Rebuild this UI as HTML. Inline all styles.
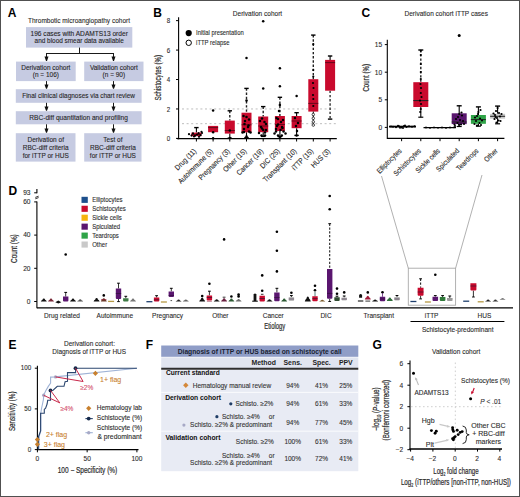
<!DOCTYPE html>
<html><head><meta charset="utf-8"><style>
html,body{margin:0;padding:0;background:#fff;}
svg{display:block;font-family:"Liberation Sans", sans-serif;}
</style></head><body>
<svg width="520" height="497" viewBox="0 0 520 497" fill="#2b2b2b">
<rect x="0" y="0" width="520" height="497" fill="#fff"/>
<text x="7.80" y="17.40" font-size="12" font-weight="bold" fill="#000">A</text>
<text x="28.00" y="22.60" font-size="6.5" stroke="#2b2b2b" stroke-width="0.1" textLength="102" lengthAdjust="spacingAndGlyphs">Thrombotic microangiopathy cohort</text>
<rect x="26.00" y="27.10" width="106.30" height="20.50" fill="#c6cbe2"/>
<text x="79.20" y="35.60" font-size="6.85" text-anchor="middle" fill="#262626" stroke="#262626" stroke-width="0.1" textLength="97.4" lengthAdjust="spacingAndGlyphs">196 cases with ADAMTS13 order</text>
<text x="79.20" y="43.20" font-size="6.85" text-anchor="middle" fill="#262626" stroke="#262626" stroke-width="0.1" textLength="89.2" lengthAdjust="spacingAndGlyphs">and blood smear data available</text>
<line x1="79.50" y1="47.60" x2="79.50" y2="53.50" stroke="#1a1a1a" stroke-width="1"/>
<line x1="46.00" y1="53.50" x2="114.00" y2="53.50" stroke="#1a1a1a" stroke-width="1"/>
<line x1="46.50" y1="53.50" x2="46.50" y2="57.70" stroke="#1a1a1a" stroke-width="1"/>
<path d="M44.50,56.60 L48.50,56.60 L47.00,60.90 L46.00,60.90 Z" fill="#111"/>
<line x1="113.50" y1="53.50" x2="113.50" y2="57.70" stroke="#1a1a1a" stroke-width="1"/>
<path d="M111.50,56.60 L115.50,56.60 L114.00,60.90 L113.00,60.90 Z" fill="#111"/>
<rect x="16.00" y="61.60" width="59.70" height="19.50" fill="#c6cbe2"/>
<rect x="84.20" y="61.60" width="59.30" height="19.50" fill="#c6cbe2"/>
<text x="45.85" y="69.90" font-size="6.85" text-anchor="middle" fill="#262626" stroke="#262626" stroke-width="0.1" textLength="49.13" lengthAdjust="spacingAndGlyphs">Derivation cohort</text>
<text x="45.85" y="77.40" font-size="6.85" text-anchor="middle" fill="#262626" stroke="#262626" stroke-width="0.1" textLength="26.2" lengthAdjust="spacingAndGlyphs">(n = 106)</text>
<text x="113.85" y="69.90" font-size="6.85" text-anchor="middle" fill="#262626" stroke="#262626" stroke-width="0.1" textLength="47.93" lengthAdjust="spacingAndGlyphs">Validation cohort</text>
<text x="113.85" y="77.40" font-size="6.85" text-anchor="middle" fill="#262626" stroke="#262626" stroke-width="0.1" textLength="22.58" lengthAdjust="spacingAndGlyphs">(n = 90)</text>
<line x1="46.50" y1="81.10" x2="46.50" y2="85.50" stroke="#1a1a1a" stroke-width="1"/>
<path d="M44.50,84.40 L48.50,84.40 L47.00,88.70 L46.00,88.70 Z" fill="#111"/>
<line x1="113.50" y1="81.10" x2="113.50" y2="85.50" stroke="#1a1a1a" stroke-width="1"/>
<path d="M111.50,84.40 L115.50,84.40 L114.00,88.70 L113.00,88.70 Z" fill="#111"/>
<rect x="15.80" y="89.20" width="125.80" height="13.60" fill="#c6cbe2"/>
<text x="78.60" y="97.90" font-size="6.85" text-anchor="middle" fill="#262626" stroke="#262626" stroke-width="0.1" textLength="112.7" lengthAdjust="spacingAndGlyphs">Final clinical diagnoses via chart review</text>
<line x1="46.50" y1="102.80" x2="46.50" y2="107.50" stroke="#1a1a1a" stroke-width="1"/>
<path d="M44.50,106.40 L48.50,106.40 L47.00,110.70 L46.00,110.70 Z" fill="#111"/>
<line x1="113.50" y1="102.80" x2="113.50" y2="107.50" stroke="#1a1a1a" stroke-width="1"/>
<path d="M111.50,106.40 L115.50,106.40 L114.00,110.70 L113.00,110.70 Z" fill="#111"/>
<rect x="15.80" y="111.20" width="125.80" height="13.10" fill="#c6cbe2"/>
<text x="78.60" y="119.90" font-size="6.85" text-anchor="middle" fill="#262626" stroke="#262626" stroke-width="0.1" textLength="98.7" lengthAdjust="spacingAndGlyphs">RBC-diff quantitation and profiling</text>
<line x1="46.50" y1="124.30" x2="46.50" y2="129.50" stroke="#1a1a1a" stroke-width="1"/>
<path d="M44.50,128.40 L48.50,128.40 L47.00,132.70 L46.00,132.70 Z" fill="#111"/>
<line x1="113.50" y1="124.30" x2="113.50" y2="129.50" stroke="#1a1a1a" stroke-width="1"/>
<path d="M111.50,128.40 L115.50,128.40 L114.00,132.70 L113.00,132.70 Z" fill="#111"/>
<rect x="15.80" y="133.20" width="59.70" height="28.40" fill="#c6cbe2"/>
<rect x="84.20" y="133.20" width="57.30" height="28.40" fill="#c6cbe2"/>
<text x="45.70" y="142.20" font-size="6.85" text-anchor="middle" fill="#262626" stroke="#262626" stroke-width="0.1" textLength="36.49" lengthAdjust="spacingAndGlyphs">Derivation of</text>
<text x="45.70" y="149.95" font-size="6.85" text-anchor="middle" fill="#262626" stroke="#262626" stroke-width="0.1" textLength="45.75" lengthAdjust="spacingAndGlyphs">RBC-diff criteria</text>
<text x="45.70" y="157.70" font-size="6.85" text-anchor="middle" fill="#262626" stroke="#262626" stroke-width="0.1" textLength="46.11" lengthAdjust="spacingAndGlyphs">for iTTP or HUS</text>
<text x="112.90" y="142.20" font-size="6.85" text-anchor="middle" fill="#262626" stroke="#262626" stroke-width="0.1" textLength="19.15" lengthAdjust="spacingAndGlyphs">Test of</text>
<text x="112.90" y="149.95" font-size="6.85" text-anchor="middle" fill="#262626" stroke="#262626" stroke-width="0.1" textLength="45.75" lengthAdjust="spacingAndGlyphs">RBC-diff criteria</text>
<text x="112.90" y="157.70" font-size="6.85" text-anchor="middle" fill="#262626" stroke="#262626" stroke-width="0.1" textLength="46.11" lengthAdjust="spacingAndGlyphs">for iTTP or HUS</text>
<text x="153.20" y="17.40" font-size="12" font-weight="bold" fill="#000">B</text>
<text x="257.50" y="15.50" font-size="6.5" text-anchor="middle" stroke="#2b2b2b" stroke-width="0.1" textLength="49.3" lengthAdjust="spacingAndGlyphs">Derivation cohort</text>
<line x1="178.60" y1="17.30" x2="178.60" y2="139.20" stroke="#000" stroke-width="1.1"/>
<line x1="176.00" y1="138.40" x2="178.60" y2="138.40" stroke="#000" stroke-width="1"/>
<text x="170.30" y="141.00" font-size="6.7" text-anchor="end" stroke="#2b2b2b" stroke-width="0.1" textLength="3.45" lengthAdjust="spacingAndGlyphs">0</text>
<line x1="176.00" y1="108.96" x2="178.60" y2="108.96" stroke="#000" stroke-width="1"/>
<text x="170.30" y="111.56" font-size="6.7" text-anchor="end" stroke="#2b2b2b" stroke-width="0.1" textLength="3.45" lengthAdjust="spacingAndGlyphs">2</text>
<line x1="176.00" y1="79.52" x2="178.60" y2="79.52" stroke="#000" stroke-width="1"/>
<text x="170.30" y="82.12" font-size="6.7" text-anchor="end" stroke="#2b2b2b" stroke-width="0.1" textLength="3.45" lengthAdjust="spacingAndGlyphs">4</text>
<line x1="176.00" y1="50.08" x2="178.60" y2="50.08" stroke="#000" stroke-width="1"/>
<text x="170.30" y="52.68" font-size="6.7" text-anchor="end" stroke="#2b2b2b" stroke-width="0.1" textLength="3.45" lengthAdjust="spacingAndGlyphs">6</text>
<line x1="176.00" y1="20.64" x2="178.60" y2="20.64" stroke="#000" stroke-width="1"/>
<text x="170.30" y="23.24" font-size="6.7" text-anchor="end" stroke="#2b2b2b" stroke-width="0.1" textLength="3.45" lengthAdjust="spacingAndGlyphs">8</text>
<text x="161.00" y="77.80" font-size="8.6" text-anchor="middle" stroke="#2b2b2b" stroke-width="0.2" textLength="45.5" lengthAdjust="spacingAndGlyphs" transform="rotate(-90 161.00 77.80)">Schistocytes (%)</text>
<line x1="182.00" y1="123.68" x2="338.00" y2="123.68" stroke="#bdbdbd" stroke-width="1" stroke-dasharray="2,2.6"/>
<line x1="182.00" y1="108.96" x2="338.00" y2="108.96" stroke="#bdbdbd" stroke-width="1" stroke-dasharray="2,2.6"/>
<line x1="177.00" y1="138.60" x2="336.80" y2="138.60" stroke="#000" stroke-width="1.3"/>
<line x1="196.40" y1="138.60" x2="196.40" y2="141.50" stroke="#000" stroke-width="1"/>
<text x="196.90" y="151.60" font-size="7.5" text-anchor="end" stroke="#2b2b2b" stroke-width="0.12" textLength="26.97" lengthAdjust="spacingAndGlyphs" transform="rotate(-45 196.90 151.60)">Drug (11)</text>
<line x1="213.10" y1="138.60" x2="213.10" y2="141.50" stroke="#000" stroke-width="1"/>
<text x="213.60" y="151.60" font-size="7.5" text-anchor="end" stroke="#2b2b2b" stroke-width="0.12" textLength="46.24" lengthAdjust="spacingAndGlyphs" transform="rotate(-45 213.60 151.60)">Autoimmune (5)</text>
<line x1="229.80" y1="138.60" x2="229.80" y2="141.50" stroke="#000" stroke-width="1"/>
<text x="230.30" y="151.60" font-size="7.5" text-anchor="end" stroke="#2b2b2b" stroke-width="0.12" textLength="40.82" lengthAdjust="spacingAndGlyphs" transform="rotate(-45 230.30 151.60)">Pregnancy (3)</text>
<line x1="246.50" y1="138.60" x2="246.50" y2="141.50" stroke="#000" stroke-width="1"/>
<text x="247.00" y="151.60" font-size="7.5" text-anchor="end" stroke="#2b2b2b" stroke-width="0.12" textLength="29.62" lengthAdjust="spacingAndGlyphs" transform="rotate(-45 247.00 151.60)">Other (15)</text>
<line x1="263.20" y1="138.60" x2="263.20" y2="141.50" stroke="#000" stroke-width="1"/>
<text x="263.70" y="151.60" font-size="7.5" text-anchor="end" stroke="#2b2b2b" stroke-width="0.12" textLength="34.32" lengthAdjust="spacingAndGlyphs" transform="rotate(-45 263.70 151.60)">Cancer (19)</text>
<line x1="279.90" y1="138.60" x2="279.90" y2="141.50" stroke="#000" stroke-width="1"/>
<text x="280.40" y="151.60" font-size="7.5" text-anchor="end" stroke="#2b2b2b" stroke-width="0.12" textLength="24.56" lengthAdjust="spacingAndGlyphs" transform="rotate(-45 280.40 151.60)">DIC (25)</text>
<line x1="296.60" y1="138.60" x2="296.60" y2="141.50" stroke="#000" stroke-width="1"/>
<text x="297.10" y="151.60" font-size="7.5" text-anchor="end" stroke="#2b2b2b" stroke-width="0.12" textLength="43.83" lengthAdjust="spacingAndGlyphs" transform="rotate(-45 297.10 151.60)">Transplant (10)</text>
<line x1="313.30" y1="138.60" x2="313.30" y2="141.50" stroke="#000" stroke-width="1"/>
<text x="313.80" y="151.60" font-size="7.5" text-anchor="end" stroke="#2b2b2b" stroke-width="0.12" textLength="26.97" lengthAdjust="spacingAndGlyphs" transform="rotate(-45 313.80 151.60)">iTTP (15)</text>
<line x1="330.10" y1="138.60" x2="330.10" y2="141.50" stroke="#000" stroke-width="1"/>
<text x="330.60" y="151.60" font-size="7.5" text-anchor="end" stroke="#2b2b2b" stroke-width="0.12" textLength="23.47" lengthAdjust="spacingAndGlyphs" transform="rotate(-45 330.60 151.60)">HUS (3)</text>
<circle cx="188.70" cy="33.10" r="3.1" fill="#000"/>
<circle cx="188.70" cy="42.80" r="2.7" fill="#fff" stroke="#000" stroke-width="1"/>
<text x="196.10" y="35.30" font-size="6.4" stroke="#2b2b2b" stroke-width="0.1" textLength="47.6" lengthAdjust="spacingAndGlyphs">Initial presentation</text>
<text x="196.10" y="45.00" font-size="6.4" stroke="#2b2b2b" stroke-width="0.1" textLength="33.34" lengthAdjust="spacingAndGlyphs">iTTP relapse</text>
<line x1="196.40" y1="127.60" x2="196.40" y2="132.60" stroke="#000" stroke-width="1.1"/>
<line x1="194.20" y1="127.60" x2="198.60" y2="127.60" stroke="#000" stroke-width="1.4"/>
<rect x="191.40" y="132.60" width="10.00" height="3.60" fill="#c90a2d"/>
<line x1="191.40" y1="134.50" x2="201.40" y2="134.50" stroke="#5a0818" stroke-width="0.9"/>
<circle cx="189.00" cy="134.20" r="1.1" fill="#000"/>
<circle cx="191.50" cy="135.60" r="1.1" fill="#000"/>
<circle cx="193.00" cy="133.40" r="1.1" fill="#000"/>
<circle cx="195.00" cy="135.80" r="1.1" fill="#000"/>
<circle cx="197.00" cy="134.60" r="1.1" fill="#000"/>
<circle cx="198.60" cy="133.20" r="1.1" fill="#000"/>
<circle cx="200.50" cy="135.20" r="1.1" fill="#000"/>
<circle cx="202.00" cy="133.00" r="1.1" fill="#000"/>
<circle cx="194.00" cy="136.50" r="1.1" fill="#000"/>
<circle cx="199.00" cy="136.80" r="1.1" fill="#000"/>
<circle cx="201.50" cy="131.80" r="1.1" fill="#000"/>
<rect x="208.10" y="125.90" width="10.00" height="6.30" fill="#c90a2d"/>
<line x1="208.10" y1="127.60" x2="218.10" y2="127.60" stroke="#5a0818" stroke-width="0.9"/>
<circle cx="213.10" cy="110.60" r="1.25" fill="#000"/>
<circle cx="213.10" cy="138.20" r="1.25" fill="#000"/>
<circle cx="213.10" cy="132.20" r="1.25" fill="#000"/>
<line x1="229.80" y1="110.80" x2="229.80" y2="120.60" stroke="#222" stroke-width="1.4" stroke-dasharray="2.4,1.8"/>
<line x1="227.60" y1="110.80" x2="232.00" y2="110.80" stroke="#000" stroke-width="1.4"/>
<line x1="229.80" y1="133.60" x2="229.80" y2="138.20" stroke="#000" stroke-width="1.1"/>
<line x1="227.60" y1="138.20" x2="232.00" y2="138.20" stroke="#000" stroke-width="1.4"/>
<rect x="224.80" y="120.60" width="10.00" height="13.00" fill="#c90a2d"/>
<line x1="224.80" y1="130.50" x2="234.80" y2="130.50" stroke="#5a0818" stroke-width="0.9"/>
<circle cx="229.80" cy="130.50" r="1.25" fill="#000"/>
<circle cx="229.80" cy="138.00" r="1.25" fill="#000"/>
<line x1="246.50" y1="88.40" x2="246.50" y2="112.70" stroke="#222" stroke-width="1.4" stroke-dasharray="2.4,1.8"/>
<line x1="244.30" y1="88.40" x2="248.70" y2="88.40" stroke="#000" stroke-width="1.4"/>
<line x1="246.50" y1="132.30" x2="246.50" y2="137.60" stroke="#000" stroke-width="1.1"/>
<line x1="244.30" y1="137.60" x2="248.70" y2="137.60" stroke="#000" stroke-width="1.4"/>
<rect x="241.50" y="112.70" width="10.00" height="19.60" fill="#c90a2d"/>
<line x1="241.50" y1="124.80" x2="251.50" y2="124.80" stroke="#5a0818" stroke-width="0.9"/>
<circle cx="243.50" cy="116.00" r="1.25" fill="#000"/>
<circle cx="249.00" cy="119.50" r="1.25" fill="#000"/>
<circle cx="244.50" cy="124.00" r="1.25" fill="#000"/>
<circle cx="248.50" cy="125.50" r="1.25" fill="#000"/>
<circle cx="246.50" cy="58.10" r="1.25" fill="#000"/>
<circle cx="246.50" cy="100.60" r="1.25" fill="#000"/>
<circle cx="246.50" cy="117.00" r="1.25" fill="#000"/>
<circle cx="245.00" cy="121.00" r="1.25" fill="#000"/>
<circle cx="248.00" cy="127.00" r="1.25" fill="#000"/>
<circle cx="244.00" cy="132.00" r="1.25" fill="#000"/>
<circle cx="249.00" cy="131.50" r="1.25" fill="#000"/>
<circle cx="242.50" cy="132.50" r="1.25" fill="#000"/>
<circle cx="250.50" cy="132.50" r="1.25" fill="#000"/>
<circle cx="246.50" cy="136.50" r="1.25" fill="#000"/>
<circle cx="244.00" cy="129.00" r="1.25" fill="#000"/>
<line x1="263.20" y1="106.60" x2="263.20" y2="116.50" stroke="#222" stroke-width="1.4" stroke-dasharray="2.4,1.8"/>
<line x1="261.00" y1="106.60" x2="265.40" y2="106.60" stroke="#000" stroke-width="1.4"/>
<line x1="263.20" y1="132.20" x2="263.20" y2="136.40" stroke="#000" stroke-width="1.1"/>
<line x1="261.00" y1="136.40" x2="265.40" y2="136.40" stroke="#000" stroke-width="1.4"/>
<rect x="258.20" y="116.50" width="10.00" height="15.70" fill="#c90a2d"/>
<line x1="258.20" y1="126.00" x2="268.20" y2="126.00" stroke="#5a0818" stroke-width="0.9"/>
<circle cx="260.00" cy="121.00" r="1.25" fill="#000"/>
<circle cx="266.00" cy="124.00" r="1.25" fill="#000"/>
<circle cx="262.00" cy="128.50" r="1.25" fill="#000"/>
<circle cx="265.00" cy="132.50" r="1.25" fill="#000"/>
<circle cx="263.20" cy="21.20" r="1.25" fill="#000"/>
<circle cx="263.20" cy="88.50" r="1.25" fill="#000"/>
<circle cx="262.00" cy="118.50" r="1.25" fill="#000"/>
<circle cx="264.50" cy="122.00" r="1.25" fill="#000"/>
<circle cx="261.00" cy="127.00" r="1.25" fill="#000"/>
<circle cx="266.00" cy="130.00" r="1.25" fill="#000"/>
<circle cx="259.00" cy="133.00" r="1.25" fill="#000"/>
<circle cx="261.50" cy="135.50" r="1.25" fill="#000"/>
<circle cx="265.00" cy="135.50" r="1.25" fill="#000"/>
<circle cx="263.20" cy="130.00" r="1.25" fill="#000"/>
<line x1="279.90" y1="97.30" x2="279.90" y2="116.00" stroke="#222" stroke-width="1.4" stroke-dasharray="2.4,1.8"/>
<line x1="277.70" y1="97.30" x2="282.10" y2="97.30" stroke="#000" stroke-width="1.4"/>
<line x1="279.90" y1="131.00" x2="279.90" y2="136.60" stroke="#000" stroke-width="1.1"/>
<line x1="277.70" y1="136.60" x2="282.10" y2="136.60" stroke="#000" stroke-width="1.4"/>
<rect x="274.90" y="116.00" width="10.00" height="15.00" fill="#c90a2d"/>
<line x1="274.90" y1="124.50" x2="284.90" y2="124.50" stroke="#5a0818" stroke-width="0.9"/>
<circle cx="276.50" cy="118.00" r="1.25" fill="#000"/>
<circle cx="283.00" cy="120.00" r="1.25" fill="#000"/>
<circle cx="278.00" cy="124.50" r="1.25" fill="#000"/>
<circle cx="282.00" cy="127.00" r="1.25" fill="#000"/>
<circle cx="276.00" cy="129.00" r="1.25" fill="#000"/>
<circle cx="280.50" cy="130.00" r="1.25" fill="#000"/>
<circle cx="279.90" cy="68.30" r="1.25" fill="#000"/>
<circle cx="279.90" cy="86.30" r="1.25" fill="#000"/>
<circle cx="279.90" cy="105.00" r="1.25" fill="#000"/>
<circle cx="279.00" cy="111.00" r="1.25" fill="#000"/>
<circle cx="278.00" cy="119.00" r="1.25" fill="#000"/>
<circle cx="281.00" cy="122.00" r="1.25" fill="#000"/>
<circle cx="277.00" cy="126.00" r="1.25" fill="#000"/>
<circle cx="282.50" cy="128.00" r="1.25" fill="#000"/>
<circle cx="276.00" cy="131.50" r="1.25" fill="#000"/>
<circle cx="283.50" cy="131.50" r="1.25" fill="#000"/>
<circle cx="274.50" cy="133.50" r="1.25" fill="#000"/>
<circle cx="285.50" cy="133.50" r="1.25" fill="#000"/>
<circle cx="278.00" cy="135.50" r="1.25" fill="#000"/>
<circle cx="281.80" cy="135.50" r="1.25" fill="#000"/>
<circle cx="279.90" cy="137.00" r="1.25" fill="#000"/>
<line x1="296.60" y1="112.70" x2="296.60" y2="116.00" stroke="#000" stroke-width="1.1"/>
<line x1="294.40" y1="112.70" x2="298.80" y2="112.70" stroke="#000" stroke-width="1.4"/>
<line x1="296.60" y1="128.20" x2="296.60" y2="135.40" stroke="#000" stroke-width="1.1"/>
<line x1="294.40" y1="135.40" x2="298.80" y2="135.40" stroke="#000" stroke-width="1.4"/>
<rect x="291.60" y="116.00" width="10.00" height="12.20" fill="#c90a2d"/>
<line x1="291.60" y1="121.00" x2="301.60" y2="121.00" stroke="#5a0818" stroke-width="0.9"/>
<circle cx="296.60" cy="96.10" r="1.25" fill="#000"/>
<circle cx="295.00" cy="118.00" r="1.25" fill="#000"/>
<circle cx="298.00" cy="123.00" r="1.25" fill="#000"/>
<circle cx="296.00" cy="126.00" r="1.25" fill="#000"/>
<circle cx="297.00" cy="131.00" r="1.25" fill="#000"/>
<circle cx="296.60" cy="135.40" r="1.25" fill="#000"/>
<line x1="313.30" y1="35.10" x2="313.30" y2="79.20" stroke="#222" stroke-width="1.4" stroke-dasharray="2.4,1.8"/>
<line x1="311.10" y1="35.10" x2="315.50" y2="35.10" stroke="#000" stroke-width="1.4"/>
<rect x="308.30" y="79.20" width="10.00" height="32.40" fill="#c90a2d"/>
<line x1="308.30" y1="103.40" x2="318.30" y2="103.40" stroke="#5a0818" stroke-width="0.9"/>
<circle cx="313.30" cy="44.20" r="1.1" fill="#000"/>
<circle cx="313.30" cy="70.10" r="1.1" fill="#000"/>
<circle cx="313.30" cy="76.50" r="1.1" fill="#000"/>
<circle cx="313.00" cy="83.00" r="1.1" fill="#000"/>
<circle cx="313.50" cy="88.00" r="1.1" fill="#000"/>
<circle cx="313.00" cy="95.00" r="1.1" fill="#000"/>
<circle cx="313.30" cy="99.00" r="1.1" fill="#000"/>
<circle cx="313.30" cy="106.00" r="1.1" fill="#000"/>
<line x1="313.30" y1="111.60" x2="313.30" y2="125.10" stroke="#000" stroke-width="1" stroke-dasharray="2,1.5"/>
<circle cx="313.30" cy="114.50" r="1.25" fill="#fff" stroke="#000" stroke-width="0.7"/>
<circle cx="313.30" cy="118.30" r="1.25" fill="#fff" stroke="#000" stroke-width="0.7"/>
<circle cx="313.30" cy="121.80" r="1.25" fill="#fff" stroke="#000" stroke-width="0.7"/>
<circle cx="313.30" cy="125.10" r="1.25" fill="#fff" stroke="#000" stroke-width="0.7"/>
<line x1="330.10" y1="56.00" x2="330.10" y2="59.90" stroke="#000" stroke-width="1.1"/>
<line x1="327.90" y1="56.00" x2="332.30" y2="56.00" stroke="#000" stroke-width="1.4"/>
<line x1="330.10" y1="90.70" x2="330.10" y2="119.10" stroke="#333" stroke-width="1.4" stroke-dasharray="2.4,1.8"/>
<line x1="327.90" y1="119.10" x2="332.30" y2="119.10" stroke="#000" stroke-width="1.4"/>
<rect x="325.10" y="59.90" width="10.00" height="30.80" fill="#c90a2d"/>
<line x1="325.10" y1="62.60" x2="335.10" y2="62.60" stroke="#5a0818" stroke-width="0.9"/>
<text x="361.60" y="17.40" font-size="12" font-weight="bold" fill="#000">C</text>
<text x="404.50" y="15.80" font-size="6.5" stroke="#2b2b2b" stroke-width="0.1" textLength="83.4" lengthAdjust="spacingAndGlyphs">Derivation cohort iTTP cases</text>
<line x1="387.30" y1="39.70" x2="387.30" y2="139.00" stroke="#000" stroke-width="1.1"/>
<line x1="384.80" y1="127.40" x2="387.30" y2="127.40" stroke="#000" stroke-width="1"/>
<text x="382.20" y="129.70" font-size="6.6" text-anchor="end" stroke="#2b2b2b" stroke-width="0.1">0</text>
<line x1="384.80" y1="99.80" x2="387.30" y2="99.80" stroke="#000" stroke-width="1"/>
<text x="382.20" y="102.10" font-size="6.6" text-anchor="end" stroke="#2b2b2b" stroke-width="0.1">5</text>
<line x1="384.80" y1="72.20" x2="387.30" y2="72.20" stroke="#000" stroke-width="1"/>
<text x="382.20" y="74.50" font-size="6.6" text-anchor="end" stroke="#2b2b2b" stroke-width="0.1">10</text>
<line x1="384.80" y1="44.60" x2="387.30" y2="44.60" stroke="#000" stroke-width="1"/>
<text x="382.20" y="46.90" font-size="6.6" text-anchor="end" stroke="#2b2b2b" stroke-width="0.1">15</text>
<text x="368.90" y="77.80" font-size="8.6" text-anchor="middle" stroke="#2b2b2b" stroke-width="0.2" textLength="27.5" lengthAdjust="spacingAndGlyphs" transform="rotate(-90 368.90 77.80)">Count (%)</text>
<line x1="387.00" y1="138.40" x2="504.40" y2="138.40" stroke="#000" stroke-width="1.3"/>
<line x1="401.60" y1="138.40" x2="401.60" y2="141.20" stroke="#000" stroke-width="1"/>
<text x="402.20" y="151.40" font-size="7.4" text-anchor="end" stroke="#2b2b2b" stroke-width="0.12" textLength="31.86" lengthAdjust="spacingAndGlyphs" transform="rotate(-45 402.20 151.40)">Elliptocytes</text>
<line x1="420.80" y1="138.40" x2="420.80" y2="141.20" stroke="#000" stroke-width="1"/>
<text x="421.40" y="151.40" font-size="7.4" text-anchor="end" stroke="#2b2b2b" stroke-width="0.12" textLength="35.36" lengthAdjust="spacingAndGlyphs" transform="rotate(-45 421.40 151.40)">Schistocytes</text>
<line x1="440.00" y1="138.40" x2="440.00" y2="141.20" stroke="#000" stroke-width="1"/>
<text x="440.60" y="151.40" font-size="7.4" text-anchor="end" stroke="#2b2b2b" stroke-width="0.12" textLength="31.16" lengthAdjust="spacingAndGlyphs" transform="rotate(-45 440.60 151.40)">Sickle cells</text>
<line x1="459.20" y1="138.40" x2="459.20" y2="141.20" stroke="#000" stroke-width="1"/>
<text x="459.80" y="151.40" font-size="7.4" text-anchor="end" stroke="#2b2b2b" stroke-width="0.12" textLength="29.42" lengthAdjust="spacingAndGlyphs" transform="rotate(-45 459.80 151.40)">Spiculated</text>
<line x1="478.40" y1="138.40" x2="478.40" y2="141.20" stroke="#000" stroke-width="1"/>
<text x="479.00" y="151.40" font-size="7.4" text-anchor="end" stroke="#2b2b2b" stroke-width="0.12" textLength="28.01" lengthAdjust="spacingAndGlyphs" transform="rotate(-45 479.00 151.40)">Teardrops</text>
<line x1="497.60" y1="138.40" x2="497.60" y2="141.20" stroke="#000" stroke-width="1"/>
<text x="498.20" y="151.40" font-size="7.4" text-anchor="end" stroke="#2b2b2b" stroke-width="0.12" textLength="15.75" lengthAdjust="spacingAndGlyphs" transform="rotate(-45 498.20 151.40)">Other</text>
<path d="M389,126.6 L416,126.6" fill="none" stroke="#000" stroke-width="1.8"/>
<circle cx="391.00" cy="126.40" r="1.0" fill="#000"/>
<circle cx="393.00" cy="126.80" r="1.0" fill="#000"/>
<circle cx="396.00" cy="127.20" r="1.0" fill="#000"/>
<circle cx="399.00" cy="126.20" r="1.0" fill="#000"/>
<circle cx="401.60" cy="127.40" r="1.0" fill="#000"/>
<circle cx="404.00" cy="126.00" r="1.0" fill="#000"/>
<circle cx="406.50" cy="127.00" r="1.0" fill="#000"/>
<circle cx="409.00" cy="126.30" r="1.0" fill="#000"/>
<circle cx="412.00" cy="126.80" r="1.0" fill="#000"/>
<circle cx="414.50" cy="126.20" r="1.0" fill="#000"/>
<circle cx="400.00" cy="127.80" r="1.0" fill="#000"/>
<circle cx="403.00" cy="127.90" r="1.0" fill="#000"/>
<circle cx="398.00" cy="125.80" r="1.0" fill="#000"/>
<circle cx="405.00" cy="125.60" r="1.0" fill="#000"/>
<line x1="420.80" y1="50.00" x2="420.80" y2="82.20" stroke="#222" stroke-width="1.4" stroke-dasharray="2.4,1.8"/>
<line x1="418.30" y1="50.00" x2="423.30" y2="50.00" stroke="#000" stroke-width="1.4"/>
<line x1="420.80" y1="107.00" x2="420.80" y2="117.20" stroke="#000" stroke-width="1.1"/>
<line x1="418.30" y1="117.20" x2="423.30" y2="117.20" stroke="#000" stroke-width="1.2"/>
<rect x="413.30" y="82.20" width="15.00" height="24.80" fill="#c90a2d"/>
<line x1="413.30" y1="100.60" x2="428.30" y2="100.60" stroke="#222" stroke-width="1"/>
<circle cx="420.80" cy="50.80" r="1.1" fill="#000"/>
<circle cx="420.80" cy="55.00" r="1.1" fill="#000"/>
<circle cx="420.80" cy="64.00" r="1.1" fill="#000"/>
<circle cx="420.80" cy="72.00" r="1.1" fill="#000"/>
<circle cx="420.80" cy="79.00" r="1.1" fill="#000"/>
<circle cx="420.50" cy="84.00" r="1.1" fill="#000"/>
<circle cx="421.00" cy="88.00" r="1.1" fill="#000"/>
<circle cx="420.80" cy="93.00" r="1.1" fill="#000"/>
<circle cx="421.50" cy="97.00" r="1.1" fill="#000"/>
<circle cx="420.00" cy="100.60" r="1.1" fill="#000"/>
<circle cx="421.00" cy="104.00" r="1.1" fill="#000"/>
<circle cx="420.80" cy="109.00" r="1.1" fill="#000"/>
<circle cx="420.20" cy="112.00" r="1.1" fill="#000"/>
<path d="M423.5,127.6 L456,127.6" fill="none" stroke="#000" stroke-width="1.4"/>
<circle cx="426.00" cy="127.50" r="0.9" fill="#000"/>
<circle cx="430.00" cy="127.90" r="0.9" fill="#000"/>
<circle cx="434.00" cy="127.40" r="0.9" fill="#000"/>
<circle cx="438.00" cy="127.80" r="0.9" fill="#000"/>
<circle cx="442.00" cy="127.50" r="0.9" fill="#000"/>
<circle cx="446.00" cy="127.90" r="0.9" fill="#000"/>
<circle cx="450.00" cy="127.50" r="0.9" fill="#000"/>
<circle cx="454.00" cy="127.30" r="0.9" fill="#000"/>
<line x1="459.20" y1="105.80" x2="459.20" y2="113.30" stroke="#000" stroke-width="1.1"/>
<line x1="456.70" y1="105.80" x2="461.70" y2="105.80" stroke="#000" stroke-width="1.4"/>
<line x1="459.20" y1="124.10" x2="459.20" y2="126.50" stroke="#000" stroke-width="1.1"/>
<line x1="456.70" y1="126.50" x2="461.70" y2="126.50" stroke="#000" stroke-width="1.2"/>
<rect x="451.70" y="113.30" width="15.00" height="10.80" fill="#5a166f"/>
<line x1="451.70" y1="122.00" x2="466.70" y2="122.00" stroke="#222" stroke-width="1"/>
<circle cx="459.20" cy="35.60" r="1.5" fill="#000"/>
<circle cx="459.20" cy="114.00" r="1.1" fill="#000"/>
<circle cx="458.00" cy="117.00" r="1.1" fill="#000"/>
<circle cx="460.00" cy="120.00" r="1.1" fill="#000"/>
<circle cx="457.50" cy="123.00" r="1.1" fill="#000"/>
<circle cx="461.00" cy="124.50" r="1.1" fill="#000"/>
<circle cx="455.00" cy="126.00" r="1.1" fill="#000"/>
<circle cx="462.00" cy="115.50" r="1.1" fill="#000"/>
<circle cx="456.00" cy="119.00" r="1.1" fill="#000"/>
<circle cx="463.00" cy="121.00" r="1.1" fill="#000"/>
<circle cx="459.00" cy="124.80" r="1.1" fill="#000"/>
<circle cx="464.00" cy="124.00" r="1.1" fill="#000"/>
<circle cx="454.50" cy="124.50" r="1.1" fill="#000"/>
<circle cx="461.50" cy="112.50" r="1.1" fill="#000"/>
<line x1="478.40" y1="106.90" x2="478.40" y2="115.00" stroke="#000" stroke-width="1.1"/>
<line x1="475.90" y1="106.90" x2="480.90" y2="106.90" stroke="#000" stroke-width="1.4"/>
<line x1="478.40" y1="123.80" x2="478.40" y2="126.20" stroke="#000" stroke-width="1.1"/>
<line x1="475.90" y1="126.20" x2="480.90" y2="126.20" stroke="#000" stroke-width="1.2"/>
<rect x="470.90" y="115.00" width="15.00" height="8.80" fill="#2fa448"/>
<line x1="470.90" y1="119.60" x2="485.90" y2="119.60" stroke="#222" stroke-width="1"/>
<circle cx="478.40" cy="112.00" r="1.1" fill="#000"/>
<circle cx="477.00" cy="116.00" r="1.1" fill="#000"/>
<circle cx="480.00" cy="118.50" r="1.1" fill="#000"/>
<circle cx="476.00" cy="121.00" r="1.1" fill="#000"/>
<circle cx="479.50" cy="123.00" r="1.1" fill="#000"/>
<circle cx="477.00" cy="125.50" r="1.1" fill="#000"/>
<circle cx="481.00" cy="125.00" r="1.1" fill="#000"/>
<circle cx="475.00" cy="117.50" r="1.1" fill="#000"/>
<circle cx="482.00" cy="120.50" r="1.1" fill="#000"/>
<circle cx="478.00" cy="114.00" r="1.1" fill="#000"/>
<circle cx="474.50" cy="124.00" r="1.1" fill="#000"/>
<circle cx="480.50" cy="110.00" r="1.1" fill="#000"/>
<line x1="497.60" y1="106.10" x2="497.60" y2="113.80" stroke="#000" stroke-width="1.1"/>
<line x1="495.10" y1="106.10" x2="500.10" y2="106.10" stroke="#000" stroke-width="1.4"/>
<line x1="497.60" y1="118.70" x2="497.60" y2="123.80" stroke="#000" stroke-width="1.1"/>
<line x1="495.10" y1="123.80" x2="500.10" y2="123.80" stroke="#000" stroke-width="1.2"/>
<rect x="490.10" y="113.80" width="15.00" height="4.90" fill="#c9c9c9"/>
<line x1="490.10" y1="116.30" x2="505.10" y2="116.30" stroke="#222" stroke-width="1"/>
<circle cx="497.60" cy="108.00" r="1.1" fill="#000"/>
<circle cx="496.00" cy="111.00" r="1.1" fill="#000"/>
<circle cx="499.00" cy="113.00" r="1.1" fill="#000"/>
<circle cx="495.00" cy="115.00" r="1.1" fill="#000"/>
<circle cx="500.00" cy="116.50" r="1.1" fill="#000"/>
<circle cx="497.00" cy="118.00" r="1.1" fill="#000"/>
<circle cx="498.50" cy="120.50" r="1.1" fill="#000"/>
<circle cx="496.50" cy="122.50" r="1.1" fill="#000"/>
<circle cx="494.50" cy="119.00" r="1.1" fill="#000"/>
<circle cx="500.50" cy="121.00" r="1.1" fill="#000"/>
<circle cx="493.50" cy="113.50" r="1.1" fill="#000"/>
<circle cx="501.50" cy="114.00" r="1.1" fill="#000"/>
<circle cx="495.50" cy="117.00" r="1.1" fill="#000"/>
<text x="8.60" y="194.60" font-size="12" font-weight="bold" fill="#000">D</text>
<line x1="36.90" y1="189.00" x2="36.90" y2="193.20" stroke="#000" stroke-width="1.1"/>
<line x1="34.20" y1="192.80" x2="36.90" y2="192.80" stroke="#000" stroke-width="1"/>
<text x="30.50" y="194.80" font-size="6.6" text-anchor="end" stroke="#2b2b2b" stroke-width="0.1">93</text>
<line x1="35.30" y1="197.40" x2="38.60" y2="196.20" stroke="#000" stroke-width="0.8"/>
<line x1="35.30" y1="198.80" x2="38.60" y2="197.60" stroke="#000" stroke-width="0.8"/>
<line x1="36.90" y1="201.40" x2="36.90" y2="308.20" stroke="#000" stroke-width="1.1"/>
<line x1="34.20" y1="301.50" x2="36.90" y2="301.50" stroke="#000" stroke-width="1"/>
<text x="30.50" y="303.80" font-size="6.6" text-anchor="end" stroke="#2b2b2b" stroke-width="0.1">0</text>
<line x1="34.20" y1="268.30" x2="36.90" y2="268.30" stroke="#000" stroke-width="1"/>
<text x="30.50" y="270.60" font-size="6.6" text-anchor="end" stroke="#2b2b2b" stroke-width="0.1">20</text>
<line x1="34.20" y1="235.10" x2="36.90" y2="235.10" stroke="#000" stroke-width="1"/>
<text x="30.50" y="237.40" font-size="6.6" text-anchor="end" stroke="#2b2b2b" stroke-width="0.1">40</text>
<line x1="34.20" y1="201.90" x2="36.90" y2="201.90" stroke="#000" stroke-width="1"/>
<text x="30.50" y="204.20" font-size="6.6" text-anchor="end" stroke="#2b2b2b" stroke-width="0.1">60</text>
<text x="17.00" y="248.60" font-size="8.6" text-anchor="middle" stroke="#2b2b2b" stroke-width="0.2" textLength="28.7" lengthAdjust="spacingAndGlyphs" transform="rotate(-90 17.00 248.60)">Count (%)</text>
<line x1="37.00" y1="307.80" x2="513.00" y2="307.80" stroke="#000" stroke-width="1.3"/>
<text x="62.00" y="318.20" font-size="6.5" text-anchor="middle" stroke="#2b2b2b" stroke-width="0.1">Drug related</text>
<text x="114.80" y="318.20" font-size="6.5" text-anchor="middle" stroke="#2b2b2b" stroke-width="0.1">Autoimmune</text>
<text x="167.60" y="318.20" font-size="6.5" text-anchor="middle" stroke="#2b2b2b" stroke-width="0.1">Pregnancy</text>
<text x="220.40" y="318.20" font-size="6.5" text-anchor="middle" stroke="#2b2b2b" stroke-width="0.1">Other</text>
<text x="273.20" y="318.20" font-size="6.5" text-anchor="middle" stroke="#2b2b2b" stroke-width="0.1">Cancer</text>
<text x="326.00" y="318.20" font-size="6.5" text-anchor="middle" stroke="#2b2b2b" stroke-width="0.1">DIC</text>
<text x="378.80" y="318.20" font-size="6.5" text-anchor="middle" stroke="#2b2b2b" stroke-width="0.1">Transplant</text>
<text x="431.60" y="318.20" font-size="6.5" text-anchor="middle" stroke="#2b2b2b" stroke-width="0.1">iTTP</text>
<text x="484.40" y="318.20" font-size="6.5" text-anchor="middle" stroke="#2b2b2b" stroke-width="0.1">HUS</text>
<text x="274.75" y="329.30" font-size="8.6" text-anchor="middle" stroke="#2b2b2b" stroke-width="0.2" textLength="20.9" lengthAdjust="spacingAndGlyphs">Etiology</text>
<line x1="410.50" y1="321.50" x2="504.40" y2="321.50" stroke="#000" stroke-width="1.1"/>
<text x="457.70" y="331.60" font-size="6.5" text-anchor="middle" stroke="#2b2b2b" stroke-width="0.1" textLength="71.6" lengthAdjust="spacingAndGlyphs">Schistocyte-predominant</text>
<rect x="81.50" y="196.80" width="6.30" height="6.10" fill="#1d4f8c"/>
<text x="92.20" y="202.20" font-size="6.6" stroke="#2b2b2b" stroke-width="0.1" textLength="30.34" lengthAdjust="spacingAndGlyphs">Elliptocytes</text>
<rect x="81.50" y="205.74" width="6.30" height="6.10" fill="#c90a2d"/>
<text x="92.20" y="211.14" font-size="6.6" stroke="#2b2b2b" stroke-width="0.1" textLength="33.68" lengthAdjust="spacingAndGlyphs">Schistocytes</text>
<rect x="81.50" y="214.68" width="6.30" height="6.10" fill="#f6b40e"/>
<text x="92.20" y="220.08" font-size="6.6" stroke="#2b2b2b" stroke-width="0.1" textLength="29.67" lengthAdjust="spacingAndGlyphs">Sickle cells</text>
<rect x="81.50" y="223.62" width="6.30" height="6.10" fill="#5a166f"/>
<text x="92.20" y="229.02" font-size="6.6" stroke="#2b2b2b" stroke-width="0.1" textLength="28.02" lengthAdjust="spacingAndGlyphs">Spiculated</text>
<rect x="81.50" y="232.56" width="6.30" height="6.10" fill="#2fa448"/>
<text x="92.20" y="237.96" font-size="6.6" stroke="#2b2b2b" stroke-width="0.1" textLength="26.68" lengthAdjust="spacingAndGlyphs">Teardrops</text>
<rect x="81.50" y="241.50" width="6.30" height="6.10" fill="#c9c9c9"/>
<text x="92.20" y="246.90" font-size="6.6" stroke="#2b2b2b" stroke-width="0.1" textLength="15.0" lengthAdjust="spacingAndGlyphs">Other</text>
<path d="M381.5,176 L408.3,268.2 M482,175 L455.6,268.2" fill="none" stroke="#a8a8a8" stroke-width="0.9"/>
<rect x="408.30" y="268.20" width="47.30" height="37.00" fill="none" stroke="#a8a8a8" stroke-width="0.9"/>
<path d="M40.80,301.60 L46.80,301.60 Q46.40,300.25 45.10,299.80 Q44.90,298.60 43.80,298.60 Q42.70,298.60 42.50,299.80 Q41.20,300.25 40.80,301.60 Z" fill="#111"/>
<path d="M48.00,301.60 L54.00,301.60 Q53.60,300.25 52.30,299.80 Q52.10,298.60 51.00,298.60 Q49.90,298.60 49.70,299.80 Q48.40,300.25 48.00,301.60 Z" fill="#7a2a38"/>
<path d="M55.30,302.2 L58.30,300.6 L61.30,302.2 L58.30,303.4 Z" fill="#111"/>
<line x1="65.70" y1="292.40" x2="65.70" y2="296.60" stroke="#000" stroke-width="0.8"/>
<line x1="64.30" y1="292.40" x2="67.10" y2="292.40" stroke="#000" stroke-width="1.0"/>
<path d="M63.00,296.60 L68.40,296.60 L68.40,300.40 Q68.40,301.40 67.40,301.40 L64.00,301.40 Q63.00,301.40 63.00,300.40 Z" fill="#5a166f"/>
<circle cx="65.70" cy="254.50" r="1.3" fill="#000"/>
<path d="M70.00,301.60 L76.00,301.60 Q75.60,300.25 74.30,299.80 Q74.10,298.60 73.00,298.60 Q71.90,298.60 71.70,299.80 Q70.40,300.25 70.00,301.60 Z" fill="#111"/>
<path d="M77.20,301.60 L83.20,301.60 Q82.80,300.52 81.50,300.16 Q81.30,299.20 80.20,299.20 Q79.10,299.20 78.90,300.16 Q77.60,300.52 77.20,301.60 Z" fill="#555"/>
<path d="M93.60,301.60 L99.60,301.60 Q99.20,299.98 97.90,299.44 Q97.70,298.00 96.60,298.00 Q95.50,298.00 95.30,299.44 Q94.00,299.98 93.60,301.60 Z" fill="#111"/>
<circle cx="103.80" cy="295.40" r="1.3" fill="#000"/>
<path d="M100.80,301.60 L106.80,301.60 Q106.40,300.07 105.10,299.56 Q104.90,298.20 103.80,298.20 Q102.70,298.20 102.50,299.56 Q101.20,300.07 100.80,301.60 Z" fill="#6a3a2a"/>
<line x1="101.20" y1="299.60" x2="106.40" y2="299.60" stroke="#8a1a30" stroke-width="0.8"/>
<line x1="108.10" y1="301.40" x2="114.10" y2="301.40" stroke="#b69a45" stroke-width="1.3"/>
<line x1="118.50" y1="283.20" x2="118.50" y2="288.50" stroke="#000" stroke-width="0.8"/>
<line x1="117.10" y1="283.20" x2="119.90" y2="283.20" stroke="#000" stroke-width="1.0"/>
<line x1="118.50" y1="299.00" x2="118.50" y2="301.60" stroke="#000" stroke-width="0.8"/>
<line x1="117.10" y1="301.60" x2="119.90" y2="301.60" stroke="#000" stroke-width="0.9"/>
<path d="M115.80,288.50 L121.20,288.50 L121.20,298.00 Q121.20,299.00 120.20,299.00 L116.80,299.00 Q115.80,299.00 115.80,298.00 Z" fill="#5a166f"/>
<line x1="115.80" y1="293.50" x2="121.20" y2="293.50" stroke="#2a1030" stroke-width="0.6"/>
<line x1="125.80" y1="296.30" x2="125.80" y2="298.20" stroke="#000" stroke-width="0.8"/>
<line x1="124.40" y1="296.30" x2="127.20" y2="296.30" stroke="#000" stroke-width="1.0"/>
<path d="M123.10,298.20 L128.50,298.20 L128.50,300.40 Q128.50,301.40 127.50,301.40 L124.10,301.40 Q123.10,301.40 123.10,300.40 Z" fill="#3d7a44"/>
<path d="M130.00,301.60 L136.00,301.60 Q135.60,300.25 134.30,299.80 Q134.10,298.60 133.00,298.60 Q131.90,298.60 131.70,299.80 Q130.40,300.25 130.00,301.60 Z" fill="#777"/>
<line x1="146.40" y1="301.70" x2="152.40" y2="301.70" stroke="#1d3f6e" stroke-width="1.3"/>
<line x1="156.60" y1="295.70" x2="156.60" y2="297.50" stroke="#000" stroke-width="0.8"/>
<line x1="155.20" y1="295.70" x2="158.00" y2="295.70" stroke="#000" stroke-width="1.0"/>
<path d="M153.90,297.50 L159.30,297.50 L159.30,300.60 Q159.30,301.60 158.30,301.60 L154.90,301.60 Q153.90,301.60 153.90,300.60 Z" fill="#c90a2d"/>
<line x1="153.90" y1="299.80" x2="159.30" y2="299.80" stroke="#2a1030" stroke-width="0.6"/>
<line x1="160.90" y1="302.00" x2="166.90" y2="302.00" stroke="#b69a45" stroke-width="1.3"/>
<line x1="171.30" y1="288.30" x2="171.30" y2="291.40" stroke="#000" stroke-width="0.8"/>
<line x1="169.90" y1="288.30" x2="172.70" y2="288.30" stroke="#000" stroke-width="1.0"/>
<path d="M168.60,291.40 L174.00,291.40 L174.00,296.10 Q174.00,297.10 173.00,297.10 L169.60,297.10 Q168.60,297.10 168.60,296.10 Z" fill="#5a166f"/>
<line x1="168.60" y1="295.50" x2="174.00" y2="295.50" stroke="#2a1030" stroke-width="0.6"/>
<line x1="170.50" y1="300.60" x2="172.10" y2="300.60" stroke="#222" stroke-width="0.8"/>
<path d="M175.60,301.60 L181.60,301.60 Q181.20,300.70 179.90,300.40 Q179.70,299.60 178.60,299.60 Q177.50,299.60 177.30,300.40 Q176.00,300.70 175.60,301.60 Z" fill="#222"/>
<path d="M182.80,301.60 L188.80,301.60 Q188.40,300.61 187.10,300.28 Q186.90,299.40 185.80,299.40 Q184.70,299.40 184.50,300.28 Q183.20,300.61 182.80,301.60 Z" fill="#666"/>
<circle cx="202.20" cy="296.00" r="1.3" fill="#000"/>
<path d="M199.20,301.60 L205.20,301.60 Q204.80,299.80 203.50,299.20 Q203.30,297.60 202.20,297.60 Q201.10,297.60 200.90,299.20 Q199.60,299.80 199.20,301.60 Z" fill="#111"/>
<line x1="209.40" y1="291.20" x2="209.40" y2="295.40" stroke="#000" stroke-width="0.8"/>
<line x1="208.00" y1="291.20" x2="210.80" y2="291.20" stroke="#000" stroke-width="1.0"/>
<path d="M206.70,295.40 L212.10,295.40 L212.10,299.40 Q212.10,300.40 211.10,300.40 L207.70,300.40 Q206.70,300.40 206.70,299.40 Z" fill="#c90a2d"/>
<line x1="206.70" y1="297.50" x2="212.10" y2="297.50" stroke="#2a1030" stroke-width="0.6"/>
<circle cx="209.40" cy="283.80" r="1.3" fill="#000"/>
<line x1="206.90" y1="301.30" x2="211.90" y2="301.30" stroke="#aa6070" stroke-width="0.8"/>
<path d="M213.70,301.60 L219.70,301.60 Q219.30,300.52 218.00,300.16 Q217.80,299.20 216.70,299.20 Q215.60,299.20 215.40,300.16 Q214.10,300.52 213.70,301.60 Z" fill="#111"/>
<path d="M221.10,301.60 L227.10,301.60 Q226.70,300.07 225.40,299.56 Q225.20,298.20 224.10,298.20 Q223.00,298.20 222.80,299.56 Q221.50,300.07 221.10,301.60 Z" fill="#6a2040"/>
<circle cx="224.10" cy="239.40" r="1.3" fill="#000"/>
<line x1="222.70" y1="297.20" x2="225.50" y2="297.20" stroke="#000" stroke-width="0.8"/>
<circle cx="231.40" cy="296.50" r="1.3" fill="#000"/>
<path d="M228.40,301.60 L234.40,301.60 Q234.00,300.16 232.70,299.68 Q232.50,298.40 231.40,298.40 Q230.30,298.40 230.10,299.68 Q228.80,300.16 228.40,301.60 Z" fill="#2c5a33"/>
<circle cx="238.60" cy="294.60" r="1.3" fill="#000"/>
<circle cx="238.60" cy="296.40" r="1.3" fill="#000"/>
<path d="M235.60,301.60 L241.60,301.60 Q241.20,300.43 239.90,300.04 Q239.70,299.00 238.60,299.00 Q237.50,299.00 237.30,300.04 Q236.00,300.43 235.60,301.60 Z" fill="#6e6e6e"/>
<path d="M253.60,301 L253.60,294.5 Q255.00,292.6 256.40,294.5 L256.40,301 Z" fill="#111"/>
<line x1="252.20" y1="301.20" x2="257.80" y2="301.20" stroke="#111" stroke-width="1.1"/>
<path d="M259.50,295.80 L264.90,295.80 L264.90,300.50 Q264.90,301.50 263.90,301.50 L260.50,301.50 Q259.50,301.50 259.50,300.50 Z" fill="#c90a2d"/>
<line x1="259.50" y1="298.50" x2="264.90" y2="298.50" stroke="#2a1030" stroke-width="0.6"/>
<circle cx="262.20" cy="290.80" r="1.3" fill="#000"/>
<circle cx="262.20" cy="275.40" r="1.3" fill="#000"/>
<line x1="260.90" y1="294.30" x2="263.50" y2="294.30" stroke="#000" stroke-width="0.8"/>
<path d="M266.50,301.60 L272.50,301.60 Q272.10,300.52 270.80,300.16 Q270.60,299.20 269.50,299.20 Q268.40,299.20 268.20,300.16 Q266.90,300.52 266.50,301.60 Z" fill="#111"/>
<line x1="276.90" y1="288.30" x2="276.90" y2="292.40" stroke="#000" stroke-width="0.8"/>
<line x1="275.50" y1="288.30" x2="278.30" y2="288.30" stroke="#000" stroke-width="1.0"/>
<path d="M274.20,292.40 L279.60,292.40 L279.60,300.30 Q279.60,301.30 278.60,301.30 L275.20,301.30 Q274.20,301.30 274.20,300.30 Z" fill="#5a166f"/>
<line x1="274.20" y1="297.50" x2="279.60" y2="297.50" stroke="#2a1030" stroke-width="0.6"/>
<circle cx="276.90" cy="271.40" r="1.3" fill="#000"/>
<circle cx="276.90" cy="250.80" r="1.3" fill="#000"/>
<circle cx="276.90" cy="231.80" r="1.3" fill="#000"/>
<path d="M281.20,301.60 L287.20,301.60 Q286.80,300.25 285.50,299.80 Q285.30,298.60 284.20,298.60 Q283.10,298.60 282.90,299.80 Q281.60,300.25 281.20,301.60 Z" fill="#2c5a33"/>
<line x1="291.40" y1="295.60" x2="291.40" y2="297.00" stroke="#000" stroke-width="0.8"/>
<line x1="290.00" y1="295.60" x2="292.80" y2="295.60" stroke="#000" stroke-width="1.0"/>
<path d="M288.70,297.00 L294.10,297.00 L294.10,300.00 Q294.10,301.00 293.10,301.00 L289.70,301.00 Q288.70,301.00 288.70,300.00 Z" fill="#bdbdbd"/>
<line x1="288.70" y1="299.00" x2="294.10" y2="299.00" stroke="#2a1030" stroke-width="0.6"/>
<circle cx="291.40" cy="292.70" r="1.3" fill="#000"/>
<path d="M304.80,301.60 L310.80,301.60 Q310.40,299.26 309.10,298.48 Q308.90,296.40 307.80,296.40 Q306.70,296.40 306.50,298.48 Q305.20,299.26 304.80,301.60 Z" fill="#111"/>
<path d="M312.30,296.30 L317.70,296.30 L317.70,300.30 Q317.70,301.30 316.70,301.30 L313.30,301.30 Q312.30,301.30 312.30,300.30 Z" fill="#c90a2d"/>
<line x1="312.30" y1="298.60" x2="317.70" y2="298.60" stroke="#2a1030" stroke-width="0.6"/>
<circle cx="315.00" cy="285.70" r="1.3" fill="#000"/>
<circle cx="315.00" cy="290.20" r="1.3" fill="#000"/>
<line x1="315.00" y1="292.00" x2="315.00" y2="296.30" stroke="#2c5a5a" stroke-width="0.8"/>
<path d="M319.30,301.60 L325.30,301.60 Q324.90,300.79 323.60,300.52 Q323.40,299.80 322.30,299.80 Q321.20,299.80 321.00,300.52 Q319.70,300.79 319.30,301.60 Z" fill="#7a5a2a"/>
<line x1="329.70" y1="223.70" x2="329.70" y2="269.00" stroke="#222" stroke-width="1.1" stroke-dasharray="2.2,1.6"/>
<line x1="328.30" y1="223.70" x2="331.10" y2="223.70" stroke="#000" stroke-width="1.0"/>
<line x1="329.70" y1="298.80" x2="329.70" y2="301.50" stroke="#000" stroke-width="0.8"/>
<line x1="328.30" y1="301.50" x2="331.10" y2="301.50" stroke="#000" stroke-width="0.9"/>
<path d="M327.00,269.00 L332.40,269.00 L332.40,297.80 Q332.40,298.80 331.40,298.80 L328.00,298.80 Q327.00,298.80 327.00,297.80 Z" fill="#5a166f"/>
<line x1="327.00" y1="293.40" x2="332.40" y2="293.40" stroke="#2a1030" stroke-width="0.6"/>
<circle cx="329.70" cy="196.00" r="1.3" fill="#000"/>
<circle cx="329.70" cy="209.20" r="1.3" fill="#000"/>
<circle cx="337.00" cy="288.60" r="1.3" fill="#000"/>
<circle cx="337.00" cy="293.80" r="1.3" fill="#000"/>
<line x1="337.00" y1="296.20" x2="337.00" y2="297.20" stroke="#000" stroke-width="0.8"/>
<line x1="335.60" y1="296.20" x2="338.40" y2="296.20" stroke="#000" stroke-width="1.0"/>
<path d="M334.30,297.20 L339.70,297.20 L339.70,300.00 Q339.70,301.00 338.70,301.00 L335.30,301.00 Q334.30,301.00 334.30,300.00 Z" fill="#2e4a30"/>
<circle cx="344.20" cy="292.40" r="1.3" fill="#000"/>
<line x1="344.20" y1="296.00" x2="344.20" y2="297.50" stroke="#000" stroke-width="0.8"/>
<line x1="342.80" y1="296.00" x2="345.60" y2="296.00" stroke="#000" stroke-width="1.0"/>
<path d="M341.50,297.50 L346.90,297.50 L346.90,299.60 Q346.90,300.60 345.90,300.60 L342.50,300.60 Q341.50,300.60 341.50,299.60 Z" fill="#bdbdbd"/>
<line x1="341.50" y1="299.00" x2="346.90" y2="299.00" stroke="#2a1030" stroke-width="0.6"/>
<path d="M359.10,297.8 L359.10,295 Q360.60,292.8 362.10,295 L362.10,297.8 Z" fill="#111"/>
<line x1="357.90" y1="301.00" x2="363.30" y2="301.00" stroke="#111" stroke-width="1.1"/>
<circle cx="367.80" cy="292.40" r="1.3" fill="#000"/>
<path d="M364.80,299.60 L370.80,299.60 Q370.40,297.89 369.10,297.32 Q368.90,295.80 367.80,295.80 Q366.70,295.80 366.50,297.32 Q365.20,297.89 364.80,299.60 Z" fill="#a01a38"/>
<line x1="365.40" y1="301.10" x2="370.20" y2="301.10" stroke="#222" stroke-width="0.9"/>
<path d="M372.10,301.60 L378.10,301.60 Q377.70,300.61 376.40,300.28 Q376.20,299.40 375.10,299.40 Q374.00,299.40 373.80,300.28 Q372.50,300.61 372.10,301.60 Z" fill="#111"/>
<circle cx="382.50" cy="292.20" r="1.3" fill="#000"/>
<path d="M379.80,296.80 L385.20,296.80 L385.20,300.20 Q385.20,301.20 384.20,301.20 L380.80,301.20 Q379.80,301.20 379.80,300.20 Z" fill="#5a166f"/>
<line x1="379.80" y1="299.00" x2="385.20" y2="299.00" stroke="#2a1030" stroke-width="0.6"/>
<line x1="382.50" y1="293.00" x2="382.50" y2="296.80" stroke="#5c1f73" stroke-width="0.8"/>
<path d="M386.80,301.00 L392.80,301.00 Q392.40,299.38 391.10,298.84 Q390.90,297.40 389.80,297.40 Q388.70,297.40 388.50,298.84 Q387.20,299.38 386.80,301.00 Z" fill="#2f6e3a"/>
<line x1="397.00" y1="295.50" x2="397.00" y2="297.00" stroke="#000" stroke-width="0.8"/>
<line x1="395.60" y1="295.50" x2="398.40" y2="295.50" stroke="#000" stroke-width="1.0"/>
<path d="M394.30,297.00 L399.70,297.00 L399.70,299.60 Q399.70,300.60 398.70,300.60 L395.30,300.60 Q394.30,300.60 394.30,299.60 Z" fill="#b5b5b5"/>
<line x1="394.30" y1="299.00" x2="399.70" y2="299.00" stroke="#2a1030" stroke-width="0.6"/>
<line x1="410.40" y1="301.50" x2="416.40" y2="301.50" stroke="#1d3f6e" stroke-width="1.3"/>
<line x1="420.60" y1="278.80" x2="420.60" y2="287.80" stroke="#222" stroke-width="1.1" stroke-dasharray="2.2,1.6"/>
<line x1="419.20" y1="278.80" x2="422.00" y2="278.80" stroke="#000" stroke-width="1.0"/>
<line x1="420.60" y1="295.70" x2="420.60" y2="298.90" stroke="#000" stroke-width="0.8"/>
<line x1="419.20" y1="298.90" x2="422.00" y2="298.90" stroke="#000" stroke-width="0.9"/>
<path d="M417.65,287.80 L423.55,287.80 L423.55,294.70 Q423.55,295.70 422.55,295.70 L418.65,295.70 Q417.65,295.70 417.65,294.70 Z" fill="#c90a2d"/>
<line x1="417.65" y1="292.00" x2="423.55" y2="292.00" stroke="#2a1030" stroke-width="0.6"/>
<line x1="424.90" y1="302.00" x2="430.90" y2="302.00" stroke="#b69a45" stroke-width="1.3"/>
<circle cx="435.30" cy="274.70" r="1.3" fill="#000"/>
<line x1="435.30" y1="295.60" x2="435.30" y2="296.70" stroke="#000" stroke-width="0.8"/>
<line x1="433.90" y1="295.60" x2="436.70" y2="295.60" stroke="#000" stroke-width="1.0"/>
<path d="M432.50,296.70 L438.10,296.70 L438.10,300.00 Q438.10,301.00 437.10,301.00 L433.50,301.00 Q432.50,301.00 432.50,300.00 Z" fill="#5a166f"/>
<line x1="442.60" y1="295.60" x2="442.60" y2="297.00" stroke="#000" stroke-width="0.8"/>
<line x1="441.20" y1="295.60" x2="444.00" y2="295.60" stroke="#000" stroke-width="1.0"/>
<path d="M439.80,297.00 L445.40,297.00 L445.40,300.00 Q445.40,301.00 444.40,301.00 L440.80,301.00 Q439.80,301.00 439.80,300.00 Z" fill="#2f7a3a"/>
<line x1="449.80" y1="296.00" x2="449.80" y2="298.00" stroke="#000" stroke-width="0.8"/>
<line x1="448.40" y1="296.00" x2="451.20" y2="296.00" stroke="#000" stroke-width="1.0"/>
<path d="M447.00,298.00 L452.60,298.00 L452.60,300.00 Q452.60,301.00 451.60,301.00 L448.00,301.00 Q447.00,301.00 447.00,300.00 Z" fill="#9a9a9a"/>
<line x1="463.20" y1="301.20" x2="469.20" y2="301.20" stroke="#1d3f6e" stroke-width="1.3"/>
<line x1="473.40" y1="290.60" x2="473.40" y2="297.00" stroke="#000" stroke-width="0.8"/>
<line x1="472.00" y1="297.00" x2="474.80" y2="297.00" stroke="#000" stroke-width="0.9"/>
<path d="M470.40,283.20 L476.40,283.20 L476.40,289.60 Q476.40,290.60 475.40,290.60 L471.40,290.60 Q470.40,290.60 470.40,289.60 Z" fill="#c90a2d"/>
<line x1="470.40" y1="286.00" x2="476.40" y2="286.00" stroke="#2a1030" stroke-width="0.6"/>
<line x1="477.70" y1="301.80" x2="483.70" y2="301.80" stroke="#b69a45" stroke-width="1.3"/>
<path d="M485.10,301.60 L491.10,301.60 Q490.70,300.70 489.40,300.40 Q489.20,299.60 488.10,299.60 Q487.00,299.60 486.80,300.40 Q485.50,300.70 485.10,301.60 Z" fill="#222"/>
<path d="M492.40,301.60 L498.40,301.60 Q498.00,300.70 496.70,300.40 Q496.50,299.60 495.40,299.60 Q494.30,299.60 494.10,300.40 Q492.80,300.70 492.40,301.60 Z" fill="#333"/>
<path d="M499.60,299.80 L505.60,299.80 Q505.20,298.99 503.90,298.72 Q503.70,298.00 502.60,298.00 Q501.50,298.00 501.30,298.72 Q500.00,298.99 499.60,299.80 Z" fill="#777"/>
<text x="8.50" y="348.70" font-size="12" font-weight="bold" fill="#000">E</text>
<text x="89.50" y="346.00" font-size="6.5" text-anchor="middle" stroke="#2b2b2b" stroke-width="0.1" textLength="51" lengthAdjust="spacingAndGlyphs">Derivation cohort:</text>
<text x="89.20" y="354.00" font-size="6.5" text-anchor="middle" stroke="#2b2b2b" stroke-width="0.1" textLength="73.7" lengthAdjust="spacingAndGlyphs">Diagnosis of iTTP or HUS</text>
<line x1="37.40" y1="365.70" x2="37.40" y2="450.30" stroke="#000" stroke-width="1.1"/>
<line x1="34.80" y1="449.60" x2="37.40" y2="449.60" stroke="#000" stroke-width="1"/>
<text x="31.20" y="451.70" font-size="6.6" text-anchor="end" stroke="#2b2b2b" stroke-width="0.1" textLength="3.48" lengthAdjust="spacingAndGlyphs">0</text>
<line x1="34.80" y1="408.90" x2="37.40" y2="408.90" stroke="#000" stroke-width="1"/>
<text x="31.20" y="411.00" font-size="6.6" text-anchor="end" stroke="#2b2b2b" stroke-width="0.1" textLength="6.95" lengthAdjust="spacingAndGlyphs">50</text>
<line x1="34.80" y1="368.20" x2="37.40" y2="368.20" stroke="#000" stroke-width="1"/>
<text x="31.20" y="370.30" font-size="6.6" text-anchor="end" stroke="#2b2b2b" stroke-width="0.1" textLength="10.43" lengthAdjust="spacingAndGlyphs">100</text>
<line x1="36.90" y1="449.70" x2="138.50" y2="449.70" stroke="#000" stroke-width="1.3"/>
<line x1="37.40" y1="449.70" x2="37.40" y2="452.30" stroke="#000" stroke-width="1"/>
<text x="37.40" y="461.40" font-size="6.6" text-anchor="middle" stroke="#2b2b2b" stroke-width="0.1">0</text>
<line x1="87.15" y1="449.70" x2="87.15" y2="452.30" stroke="#000" stroke-width="1"/>
<text x="87.15" y="461.40" font-size="6.6" text-anchor="middle" stroke="#2b2b2b" stroke-width="0.1">50</text>
<line x1="136.90" y1="449.70" x2="136.90" y2="452.30" stroke="#000" stroke-width="1"/>
<text x="136.90" y="461.40" font-size="6.6" text-anchor="middle" stroke="#2b2b2b" stroke-width="0.1">100</text>
<text x="87.50" y="473.20" font-size="8.6" text-anchor="middle" stroke="#2b2b2b" stroke-width="0.2" textLength="59.6" lengthAdjust="spacingAndGlyphs">100 − Specificity (%)</text>
<text x="14.70" y="411.30" font-size="8.6" text-anchor="middle" stroke="#2b2b2b" stroke-width="0.2" textLength="39.5" lengthAdjust="spacingAndGlyphs" transform="rotate(-90 14.70 411.30)">Sensitivity (%)</text>
<path d="M38.9,449.2 L39.2,436 L40.8,431 L40.8,413 L41.6,408.2 L42.5,404 L43.4,399.7 L43.7,395 L45.9,390.6 L48.3,386.4 L50.6,383.1 L50.6,377.1 L55.2,376.9 L136.9,368.2" fill="none" stroke="#9fb3d6" stroke-width="1.1"/>
<path d="M38.3,449.2 L38.5,436.6 L40.6,431 L40.6,413.2 L44.3,413.2 L44.3,409.4 L45.6,408.2 L47.1,404 L47.7,400.3 L50.5,400.3 L50.5,390.5 L53.1,390.2 L57.3,386.3 L64,386.3 L65.1,381.7 L67.5,381.2 L67.5,372.6 L75.6,372.6 L75.6,368.2 L136.9,368.2" fill="none" stroke="#2c4770" stroke-width="1.1"/>
<circle cx="55.50" cy="376.90" r="1.7" fill="#a7a9c6"/>
<circle cx="43.70" cy="395.30" r="1.7" fill="#a7a9c6"/>
<circle cx="75.50" cy="368.20" r="1.9" fill="#172a4a"/>
<circle cx="50.50" cy="390.40" r="1.9" fill="#172a4a"/>
<path d="M75.5,368.2 L83.1,381.5 L55.5,376.9" fill="none" stroke="#c8284a" stroke-width="1"/>
<path d="M50.5,390.4 L59.8,402.9 L43.7,395.3" fill="none" stroke="#c8284a" stroke-width="1"/>
<text x="80.30" y="390.20" font-size="6.5" fill="#d4506c" stroke="#d4506c" stroke-width="0.1">≥2%</text>
<text x="60.40" y="410.70" font-size="6.5" fill="#d4506c" stroke="#d4506c" stroke-width="0.1">≥4%</text>
<path d="M95.40,370.70 L98.00,373.30 L95.40,375.90 L92.80,373.30 Z" fill="#c8802e"/>
<path d="M37.40,437.00 L40.00,439.60 L37.40,442.20 L34.80,439.60 Z" fill="#c8802e"/>
<path d="M37.40,441.70 L40.00,444.30 L37.40,446.90 L34.80,444.30 Z" fill="#c8802e"/>
<text x="100.00" y="381.50" font-size="7" fill="#c8802e" stroke="#c8802e" stroke-width="0.1">1+ flag</text>
<text x="45.90" y="437.40" font-size="7" fill="#c8802e" stroke="#c8802e" stroke-width="0.1">2+ flag</text>
<text x="43.80" y="446.80" font-size="7" fill="#c8802e" stroke="#c8802e" stroke-width="0.1">3+ flag</text>
<path d="M88.70,405.70 L91.30,408.30 L88.70,410.90 L86.10,408.30 Z" fill="#c8802e"/>
<text x="96.80" y="410.10" font-size="6.6" stroke="#2b2b2b" stroke-width="0.1" textLength="45.1" lengthAdjust="spacingAndGlyphs">Hematology lab</text>
<line x1="85.40" y1="418.60" x2="92.80" y2="418.60" stroke="#2c4770" stroke-width="1.1"/>
<circle cx="88.70" cy="418.60" r="1.9" fill="#172a4a"/>
<text x="96.80" y="420.40" font-size="6.6" stroke="#2b2b2b" stroke-width="0.1" textLength="45.4" lengthAdjust="spacingAndGlyphs">Schistocyte (%)</text>
<line x1="85.40" y1="432.70" x2="92.80" y2="432.70" stroke="#9fb3d6" stroke-width="1.1"/>
<circle cx="88.70" cy="432.70" r="1.7" fill="#a7a9c6"/>
<text x="119.50" y="430.30" font-size="6.8" text-anchor="middle" stroke="#2b2b2b" stroke-width="0.1" textLength="45.4" lengthAdjust="spacingAndGlyphs">Schistocyte (%)</text>
<text x="119.50" y="438.50" font-size="6.8" text-anchor="middle" stroke="#2b2b2b" stroke-width="0.1">&amp; predominant</text>
<text x="145.70" y="348.60" font-size="12" font-weight="bold" fill="#000">F</text>
<rect x="161.20" y="345.50" width="197.10" height="11.30" fill="#8f9dc7"/>
<rect x="161.20" y="357.40" width="197.10" height="10.60" fill="#e1e5f0"/>
<rect x="161.20" y="369.60" width="197.10" height="101.60" fill="#e8ebf4"/>
<line x1="161.20" y1="368.80" x2="358.30" y2="368.80" stroke="#2f2f2f" stroke-width="1.9"/>
<line x1="161.20" y1="392.40" x2="358.30" y2="392.40" stroke="#fafbfd" stroke-width="1"/>
<line x1="161.20" y1="431.20" x2="358.30" y2="431.20" stroke="#fafbfd" stroke-width="1"/>
<text x="259.70" y="353.70" font-size="6.5" text-anchor="middle" font-weight="bold" fill="#1a1f33" textLength="164" lengthAdjust="spacingAndGlyphs">Diagnosis of iTTP or HUS based on schistocyte call</text>
<text x="275.90" y="364.80" font-size="6.9" text-anchor="end" font-weight="bold" fill="#1e1e1e">Method</text>
<text x="292.70" y="364.80" font-size="6.9" text-anchor="middle" font-weight="bold" fill="#1e1e1e">Sens.</text>
<text x="321.60" y="364.80" font-size="6.9" text-anchor="middle" font-weight="bold" fill="#1e1e1e">Spec.</text>
<text x="345.80" y="364.80" font-size="6.9" text-anchor="middle" font-weight="bold" fill="#1e1e1e">PPV</text>
<text x="165.90" y="375.20" font-size="6.65" font-weight="bold" fill="#111">Current standard</text>
<text x="165.20" y="400.20" font-size="6.75" font-weight="bold" fill="#111">Derivation cohort</text>
<text x="165.40" y="440.30" font-size="6.8" font-weight="bold" fill="#111">Validation cohort</text>
<path d="M185.80,382.60 L188.50,385.30 L185.80,388.00 L183.10,385.30 Z" fill="#d4883a"/>
<text x="192.70" y="387.60" font-size="6.5" fill="#333" stroke="#333" stroke-width="0.1">Hematology manual review</text>
<circle cx="230.80" cy="403.80" r="1.6" fill="#1f3d66"/>
<text x="235.40" y="405.90" font-size="6.5" fill="#333" stroke="#333" stroke-width="0.1">Schisto. ≥2%</text>
<circle cx="216.90" cy="416.70" r="1.6" fill="#1f3d66"/>
<text x="222.00" y="418.70" font-size="6.5" fill="#333" stroke="#333" stroke-width="0.1">Schisto. ≥4%</text>
<text x="274.60" y="418.70" font-size="6.5" text-anchor="end" fill="#333" stroke="#333" stroke-width="0.1">or</text>
<circle cx="183.90" cy="425.10" r="1.6" fill="#a7a9c6"/>
<text x="190.10" y="427.20" font-size="6.5" fill="#333" stroke="#333" stroke-width="0.1">Schisto. ≥2% &amp; predominant</text>
<text x="235.80" y="443.60" font-size="6.5" fill="#333" stroke="#333" stroke-width="0.1">Schisto. ≥2%</text>
<text x="222.00" y="457.50" font-size="6.5" fill="#333" stroke="#333" stroke-width="0.1">Schisto. ≥4%</text>
<text x="274.60" y="457.50" font-size="6.5" text-anchor="end" fill="#333" stroke="#333" stroke-width="0.1">or</text>
<text x="190.10" y="465.30" font-size="6.5" fill="#333" stroke="#333" stroke-width="0.1">Schisto. ≥2% &amp; predominant</text>
<text x="292.70" y="387.50" font-size="6.5" text-anchor="middle" fill="#333" stroke="#333" stroke-width="0.1">94%</text>
<text x="321.60" y="387.50" font-size="6.5" text-anchor="middle" fill="#333" stroke="#333" stroke-width="0.1">41%</text>
<text x="345.80" y="387.50" font-size="6.5" text-anchor="middle" fill="#333" stroke="#333" stroke-width="0.1">25%</text>
<text x="292.70" y="405.60" font-size="6.5" text-anchor="middle" fill="#333" stroke="#333" stroke-width="0.1">94%</text>
<text x="321.60" y="405.60" font-size="6.5" text-anchor="middle" fill="#333" stroke="#333" stroke-width="0.1">61%</text>
<text x="345.80" y="405.60" font-size="6.5" text-anchor="middle" fill="#333" stroke="#333" stroke-width="0.1">33%</text>
<text x="292.70" y="425.00" font-size="6.5" text-anchor="middle" fill="#333" stroke="#333" stroke-width="0.1">94%</text>
<text x="321.60" y="425.00" font-size="6.5" text-anchor="middle" fill="#333" stroke="#333" stroke-width="0.1">77%</text>
<text x="345.80" y="425.00" font-size="6.5" text-anchor="middle" fill="#333" stroke="#333" stroke-width="0.1">45%</text>
<text x="292.70" y="443.80" font-size="6.5" text-anchor="middle" fill="#333" stroke="#333" stroke-width="0.1">100%</text>
<text x="321.60" y="443.80" font-size="6.5" text-anchor="middle" fill="#333" stroke="#333" stroke-width="0.1">61%</text>
<text x="345.80" y="443.80" font-size="6.5" text-anchor="middle" fill="#333" stroke="#333" stroke-width="0.1">33%</text>
<text x="292.70" y="461.00" font-size="6.5" text-anchor="middle" fill="#333" stroke="#333" stroke-width="0.1">100%</text>
<text x="321.60" y="461.00" font-size="6.5" text-anchor="middle" fill="#333" stroke="#333" stroke-width="0.1">72%</text>
<text x="345.80" y="461.00" font-size="6.5" text-anchor="middle" fill="#333" stroke="#333" stroke-width="0.1">41%</text>
<text x="372.60" y="348.50" font-size="12" font-weight="bold" fill="#000">G</text>
<text x="456.20" y="353.50" font-size="6.5" text-anchor="middle" stroke="#2b2b2b" stroke-width="0.1" textLength="48.3" lengthAdjust="spacingAndGlyphs">Validation cohort</text>
<line x1="455.30" y1="362.50" x2="455.30" y2="448.00" stroke="#cfcfcf" stroke-width="1" stroke-dasharray="1.6,2.4"/>
<line x1="411.00" y1="406.70" x2="503.00" y2="406.70" stroke="#cfcfcf" stroke-width="1" stroke-dasharray="1.6,2.4"/>
<line x1="410.00" y1="360.60" x2="410.00" y2="449.60" stroke="#000" stroke-width="1.1"/>
<line x1="407.40" y1="449.70" x2="410.00" y2="449.70" stroke="#000" stroke-width="1"/>
<text x="403.20" y="452.10" font-size="6.6" text-anchor="end" stroke="#2b2b2b" stroke-width="0.1">−2</text>
<line x1="407.40" y1="428.20" x2="410.00" y2="428.20" stroke="#000" stroke-width="1"/>
<text x="403.20" y="430.60" font-size="6.6" text-anchor="end" stroke="#2b2b2b" stroke-width="0.1">0</text>
<line x1="407.40" y1="406.70" x2="410.00" y2="406.70" stroke="#000" stroke-width="1"/>
<text x="403.20" y="409.10" font-size="6.6" text-anchor="end" stroke="#2b2b2b" stroke-width="0.1">2</text>
<line x1="407.40" y1="385.20" x2="410.00" y2="385.20" stroke="#000" stroke-width="1"/>
<text x="403.20" y="387.60" font-size="6.6" text-anchor="end" stroke="#2b2b2b" stroke-width="0.1">4</text>
<line x1="407.40" y1="363.70" x2="410.00" y2="363.70" stroke="#000" stroke-width="1"/>
<text x="403.20" y="366.10" font-size="6.6" text-anchor="end" stroke="#2b2b2b" stroke-width="0.1">6</text>
<line x1="409.50" y1="449.00" x2="502.00" y2="449.00" stroke="#000" stroke-width="1.3"/>
<line x1="410.60" y1="449.00" x2="410.60" y2="451.60" stroke="#000" stroke-width="1"/>
<text x="410.20" y="460.90" font-size="6.6" text-anchor="middle" stroke="#2b2b2b" stroke-width="0.1">−4</text>
<line x1="432.90" y1="449.00" x2="432.90" y2="451.60" stroke="#000" stroke-width="1"/>
<text x="432.50" y="460.90" font-size="6.6" text-anchor="middle" stroke="#2b2b2b" stroke-width="0.1">−2</text>
<line x1="455.20" y1="449.00" x2="455.20" y2="451.60" stroke="#000" stroke-width="1"/>
<text x="454.80" y="460.90" font-size="6.6" text-anchor="middle" stroke="#2b2b2b" stroke-width="0.1">0</text>
<line x1="477.50" y1="449.00" x2="477.50" y2="451.60" stroke="#000" stroke-width="1"/>
<text x="477.10" y="460.90" font-size="6.6" text-anchor="middle" stroke="#2b2b2b" stroke-width="0.1">2</text>
<line x1="499.80" y1="449.00" x2="499.80" y2="451.60" stroke="#000" stroke-width="1"/>
<text x="499.40" y="460.90" font-size="6.6" text-anchor="middle" stroke="#2b2b2b" stroke-width="0.1">4</text>
<text x="433.30" y="473.50" font-size="8.6" stroke="#2b2b2b" stroke-width="0.2" textLength="45.3" lengthAdjust="spacingAndGlyphs">Log<tspan font-size="5" dy="2">2</tspan><tspan dy="-2"> fold change</tspan></text>
<text x="400.90" y="484.50" font-size="8.6" stroke="#2b2b2b" stroke-width="0.2" textLength="110" lengthAdjust="spacingAndGlyphs">Log<tspan font-size="5" dy="2">2</tspan><tspan dy="-2"> (iTTP/others [non-iTTP, non-HUS])</tspan></text>
<text x="379.30" y="409.20" font-size="8.6" text-anchor="middle" stroke="#2b2b2b" stroke-width="0.2" textLength="43.8" lengthAdjust="spacingAndGlyphs" transform="rotate(-90 379.30 409.20)">−log<tspan font-size="5" dy="2">10</tspan><tspan dy="-2"> (</tspan><tspan font-style="italic">P</tspan>-value)</text>
<text x="389.00" y="410.20" font-size="8.6" text-anchor="middle" stroke="#2b2b2b" stroke-width="0.2" textLength="60.4" lengthAdjust="spacingAndGlyphs" transform="rotate(-90 389.00 410.20)">(Bonferroni corrected)</text>
<circle cx="413.50" cy="373.20" r="1.5" fill="#000"/>
<text x="414.40" y="395.10" font-size="6.5" stroke="#2b2b2b" stroke-width="0.1" textLength="34.2" lengthAdjust="spacingAndGlyphs">ADAMTS13</text>
<path d="M418.5,385 L415.8,378.4" fill="none" stroke="#bdbdbd" stroke-width="1.1"/>
<path d="M414.9,377.2 L417.8,379.2 L415.3,380.2 Z" fill="#bdbdbd"/>
<circle cx="470.60" cy="398.80" r="1.5" fill="#000"/>
<text x="461.00" y="382.70" font-size="7" stroke="#2b2b2b" stroke-width="0.1" textLength="49" lengthAdjust="spacingAndGlyphs">Schistocytes (%)</text>
<path d="M474.2,388.0 L472.3,393.0" fill="none" stroke="#c90a2d" stroke-width="1.1"/>
<path d="M471.4,394.5 L471.0,391.3 L473.9,392.2 Z" fill="#c90a2d"/>
<text x="480.30" y="403.60" font-size="7.5" stroke="#2b2b2b" stroke-width="0.1" textLength="20.9" lengthAdjust="spacingAndGlyphs"><tspan font-style="italic">P</tspan> &lt; .01</text>
<circle cx="431.40" cy="430.60" r="1.45" fill="#000"/>
<circle cx="435.10" cy="433.20" r="1.45" fill="#000"/>
<circle cx="436.30" cy="431.20" r="1.45" fill="#000"/>
<circle cx="452.60" cy="427.80" r="1.45" fill="#000"/>
<circle cx="452.80" cy="429.80" r="1.45" fill="#000"/>
<circle cx="453.50" cy="431.40" r="1.45" fill="#000"/>
<circle cx="457.20" cy="430.20" r="1.45" fill="#000"/>
<circle cx="460.20" cy="432.40" r="1.45" fill="#000"/>
<circle cx="462.20" cy="431.60" r="1.45" fill="#000"/>
<circle cx="458.20" cy="434.60" r="1.45" fill="#000"/>
<circle cx="455.20" cy="436.60" r="1.45" fill="#000"/>
<circle cx="454.00" cy="437.80" r="1.45" fill="#000"/>
<circle cx="452.60" cy="438.80" r="1.45" fill="#000"/>
<circle cx="453.40" cy="439.80" r="1.45" fill="#000"/>
<text x="421.70" y="423.30" font-size="7" stroke="#2b2b2b" stroke-width="0.1">Hgb</text>
<text x="425.80" y="446.70" font-size="7" stroke="#2b2b2b" stroke-width="0.1">Plt</text>
<path d="M439.5,424.3 L448.0,426.3" fill="none" stroke="#c8c8c8" stroke-width="1.2"/>
<path d="M450.6,426.9 L447.4,424.9 L446.8,427.6 Z" fill="#c8c8c8"/>
<path d="M434.6,443.2 L446.8,440.3" fill="none" stroke="#c8c8c8" stroke-width="1.2"/>
<path d="M449.4,439.7 L446.1,438.9 L446.7,441.6 Z" fill="#c8c8c8"/>
<path d="M462.6,426 Q466.3,426.5 466.3,430 L466.3,432.6 Q466.3,434.6 469.2,434.8 Q466.3,435 466.3,437 L466.3,439.6 Q466.3,443.2 462.6,443.6" fill="none" stroke="#111" stroke-width="0.9"/>
<text x="488.40" y="427.70" font-size="7" text-anchor="middle" stroke="#2b2b2b" stroke-width="0.1">Other CBC</text>
<text x="488.40" y="435.75" font-size="7" text-anchor="middle" stroke="#2b2b2b" stroke-width="0.1">+ RBC-diff</text>
<text x="488.40" y="443.80" font-size="7" text-anchor="middle" stroke="#2b2b2b" stroke-width="0.1">markers</text>
<rect x="0.5" y="0.5" width="519" height="496" fill="none" stroke="#505050" stroke-width="1"/>
</svg>
</body></html>
